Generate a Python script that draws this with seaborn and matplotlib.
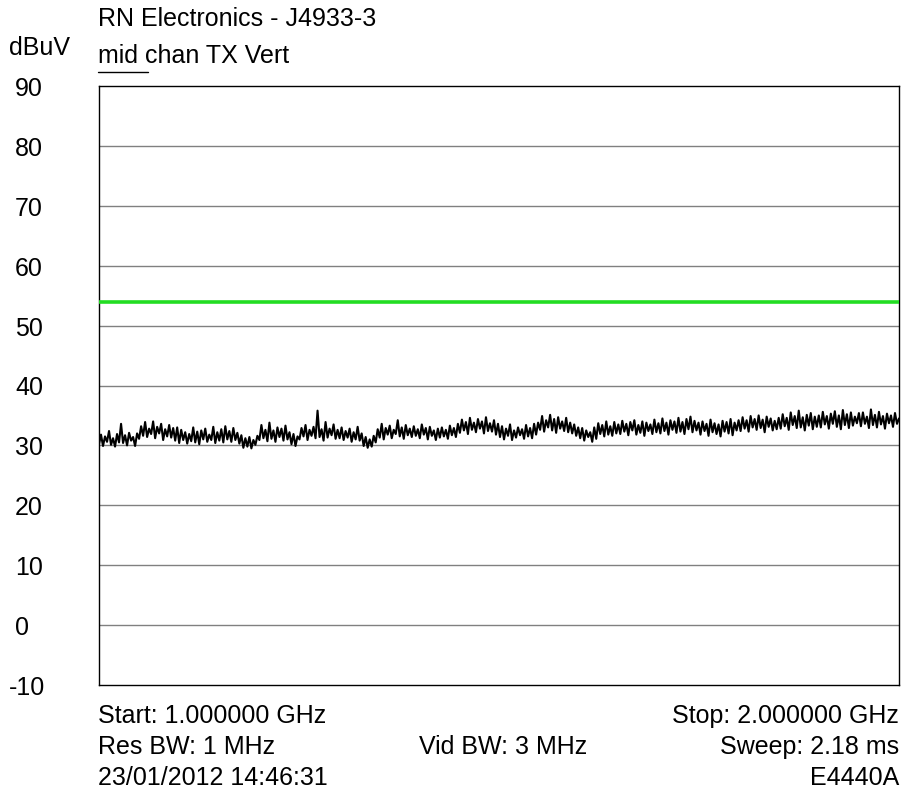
import numpy as np
import pandas as pd
import matplotlib
matplotlib.use("Agg")
import matplotlib.pyplot as plt
import seaborn as sns

# Measured spectrum trace, dBuV, sweep points from start to stop frequency
trace_dbuv = [
    30.2, 31.8, 29.9, 31.5, 30.6, 32.4, 30.1, 31.2, 29.8, 31.9, 30.5, 33.6, 30.4, 31.7, 30.0, 32.1, 30.8, 31.4, 29.9, 32.0,
    31.1, 33.2, 31.6, 33.9, 31.4, 32.8, 31.9, 34.0, 31.2, 33.1, 32.0, 33.6, 30.9, 32.7, 31.5, 33.4, 31.3, 32.9, 30.8, 33.0,
    30.4, 32.6, 30.9, 32.2, 30.3, 31.9, 30.7, 33.0, 30.5, 32.3, 30.2, 32.5, 31.0, 32.8, 30.6, 31.8, 30.9, 33.1, 30.4, 32.2,
    30.8, 32.7, 30.5, 33.2, 31.0, 32.4, 30.6, 32.9, 30.9, 32.1, 30.3, 31.7, 29.6, 31.2, 29.8, 31.4, 29.5, 30.9, 30.1, 31.6,
    30.9, 33.4, 31.2, 32.6, 30.7, 33.8, 31.1, 32.5, 30.6, 33.0, 31.4, 32.8, 30.8, 33.3, 31.0, 32.2, 30.2, 31.9, 29.9, 31.5,
    31.0, 32.9, 31.5, 33.4, 30.9, 32.6, 31.6, 33.1, 31.2, 35.8, 31.4, 32.7, 30.8, 33.9, 31.3, 32.8, 31.7, 33.5, 31.1, 32.6,
    31.2, 33.0, 30.9, 32.4, 31.3, 32.8, 30.6, 32.2, 31.0, 33.1, 30.8, 32.0, 29.9, 31.4, 29.6, 31.0, 29.8, 31.6, 30.5, 32.7,
    31.3, 33.6, 31.0, 32.9, 31.8, 33.3, 31.2, 32.6, 31.9, 34.2, 31.5, 33.0, 31.1, 33.4, 31.7, 32.8, 31.4, 33.2, 31.6, 32.7,
    31.2, 33.5, 31.8, 32.9, 31.0, 33.1, 31.6, 32.5, 30.9, 32.8, 31.3, 33.0, 31.5, 32.6, 31.1, 33.3, 31.7, 32.9, 31.4, 33.6,
    32.1, 34.3, 32.5, 33.9, 31.9, 34.6, 32.6, 33.8, 32.2, 34.4, 32.8, 34.0, 32.0, 34.7, 32.4, 33.7, 32.3, 34.2, 31.8, 33.6,
    31.4, 33.2, 31.0, 32.8, 31.6, 33.5, 30.9, 32.5, 31.3, 33.0, 31.7, 32.7, 31.1, 33.4, 31.5, 32.9, 31.2, 33.6, 31.8, 33.8,
    32.6, 34.9, 32.3, 34.2, 33.0, 35.1, 32.5, 34.4, 32.1, 34.7, 32.8, 34.0, 32.4, 34.6, 32.2, 33.8, 32.0, 33.5, 31.6, 33.0,
    31.2, 32.9, 30.8, 32.5, 31.4, 32.2, 30.6, 33.0, 31.1, 33.7, 31.9, 33.4, 31.5, 34.0, 31.8, 33.2, 31.6, 33.9, 32.0, 33.5,
    31.9, 34.1, 32.3, 33.6, 31.7, 33.9, 32.5, 34.2, 31.8, 33.4, 32.1, 34.0, 31.6, 33.8, 32.4, 33.5, 31.9, 34.3, 32.2, 33.7,
    32.0, 34.5, 32.4, 33.8, 31.8, 34.2, 32.6, 34.0, 32.1, 34.6, 32.3, 33.9, 31.9, 34.4, 32.7, 34.8, 32.2, 34.1, 32.5, 33.8,
    31.8, 34.0, 32.4, 33.6, 31.6, 34.3, 32.2, 33.7, 31.9, 33.5, 31.5, 34.1, 32.3, 33.9, 32.0, 34.4, 31.7, 33.8, 32.5, 34.2,
    32.4, 34.7, 32.8, 34.2, 32.3, 34.9, 33.0, 34.4, 32.6, 35.0, 32.9, 34.3, 32.2, 34.8, 33.1, 34.5, 32.5, 34.1, 32.7, 34.6,
    32.8, 35.2, 33.2, 34.6, 32.6, 35.5, 33.4, 34.9, 32.9, 35.8, 33.0, 34.7, 32.5, 35.1, 33.3, 35.4, 32.7, 34.8, 33.1, 35.0,
    33.0, 35.6, 33.5, 34.9, 32.8, 35.3, 33.6, 35.7, 33.1, 35.0, 32.7, 35.9, 33.4, 35.2, 32.9, 35.5, 33.3, 34.8, 33.7, 35.4,
    33.2, 35.5, 33.6, 34.8, 32.9, 36.0, 33.4, 35.1, 33.0, 35.6, 33.5, 34.9, 32.8, 35.3, 33.7, 35.0, 33.1, 35.4, 33.6, 34.5,
]

start_ghz = 1.0
stop_ghz = 2.0
limit_dbuv = 54.0
y_ticks = [90, 80, 70, 60, 50, 40, 30, 20, 10, 0, -10]

title_line = "RN Electronics - J4933-3"
trace_label = "mid chan TX Vert"
unit_label = "dBuV"
footer_left = ["Start: 1.000000 GHz", "Res BW: 1 MHz", "23/01/2012 14:46:31"]
footer_mid = ["", "Vid BW: 3 MHz", ""]
footer_right = ["Stop: 2.000000 GHz", "Sweep: 2.18 ms", "E4440A"]

sns.set_theme(style="white")
plt.rcParams["font.family"] = ["Liberation Sans", "DejaVu Sans"]

freq = np.linspace(start_ghz, stop_ghz, len(trace_dbuv))
df = pd.DataFrame({"freq": freq, "level": trace_dbuv})
limit_df = pd.DataFrame({"freq": [start_ghz, stop_ghz], "level": [limit_dbuv, limit_dbuv]})

W, H = 901, 803
fig = plt.figure(figsize=(W / 100, H / 100), dpi=100)
left, right, top, bottom = 99, 899, 87, 686
ax = fig.add_axes([left / W, 1 - bottom / H, (right - left) / W, (bottom - top) / H])

for yv in y_ticks[1:-1]:
    ax.axhline(yv, color="#808080", lw=1.0, zorder=1)

sns.lineplot(data=df, x="freq", y="level", ax=ax, color="black", lw=1.5, zorder=3, estimator=None)
sns.lineplot(data=limit_df, x="freq", y="level", ax=ax, color="#22dd22", lw=2.6, zorder=4, estimator=None)

ax.set_xlim(start_ghz, stop_ghz)
ax.set_ylim(-10, 90)
ax.set_xticks([])
ax.set_yticks([])
ax.set_xlabel("")
ax.set_ylabel("")
for s in ax.spines.values():
    s.set_visible(True)
    s.set_color("black")
    s.set_linewidth(1.0)

fs = 18
txt_color = "black"


def px(x, y):
    return x / W, 1 - y / H


def put(x, y, s, ha="left"):
    fig.text(*px(x, y), s, fontsize=fs, ha=ha, va="baseline", color=txt_color)


for yv in y_ticks:
    ypix = top + (90 - yv) / 100 * (bottom - top)
    put(9 if yv < 0 else 15, ypix + 9, str(yv))

put(9, 55, unit_label)
put(98, 26, title_line)
put(98, 63, trace_label)
fig.add_artist(plt.Line2D([98 / W, 148 / W], [1 - 73 / H, 1 - 73 / H], color="black", lw=1.0))

for i, ypix in enumerate([723, 754, 785]):
    put(98, ypix, footer_left[i])
    if footer_mid[i]:
        put(503, ypix, footer_mid[i], ha="center")
    put(899, ypix, footer_right[i], ha="right")

fig.savefig("out.png", dpi=100, facecolor="white")
